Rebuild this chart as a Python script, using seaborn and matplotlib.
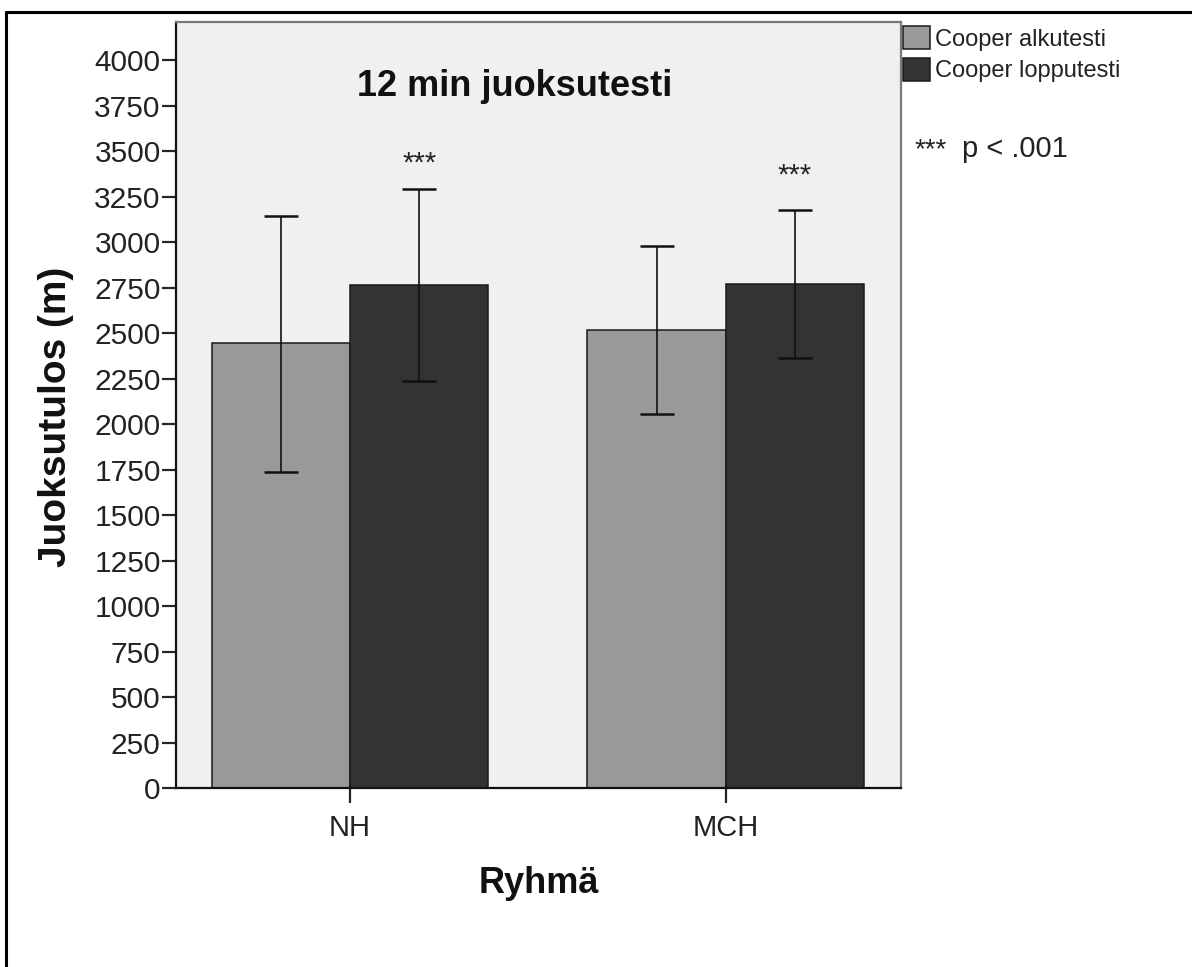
import numpy as np
import pandas as pd
import matplotlib
matplotlib.use('Agg')
import matplotlib.pyplot as plt
import seaborn as sns
from matplotlib.lines import Line2D

# data
groups = ['NH', 'MCH']
tests = ['Cooper alkutesti', 'Cooper lopputesti']
mean_alku = [2443, 2516]
mean_loppu = [2764, 2767]
err_low_alku = [1736, 2053]
err_high_alku = [3144, 2978]
err_low_loppu = [2236, 2361]
err_high_loppu = [3291, 3174]
sig_labels = ['***', '***']
sig_y = [3385, 3320]
y_ticks = np.arange(0, 4001, 250)

df = pd.DataFrame({
    'Ryhmä': groups * 2,
    'Testi': [tests[0]] * 2 + [tests[1]] * 2,
    'Juoksutulos': mean_alku + mean_loppu,
    'low': err_low_alku + err_low_loppu,
    'high': err_high_alku + err_high_loppu,
})

sns.set_style('ticks')
plt.rcParams['font.family'] = ['Liberation Sans', 'DejaVu Sans']

fig = plt.figure(figsize=(11.92, 9.67), dpi=100)
ax = fig.add_axes([176 / 1192, 1 - 788 / 967, 725 / 1192, 766 / 967])
ax.set_facecolor('#f0f0f0')

sns.barplot(data=df, x='Ryhmä', y='Juoksutulos', hue='Testi', order=groups,
            hue_order=tests, palette=['#999999', '#333333'], width=0.736,
            errorbar=None, edgecolor='#1a1a1a', linewidth=1.1, ax=ax)

# error bars on the bar centres
for cont, lo, hi in zip(ax.containers, [err_low_alku, err_low_loppu], [err_high_alku, err_high_loppu]):
    for bar, l, h in zip(cont.patches, lo, hi):
        xc = bar.get_x() + bar.get_width() / 2
        m = bar.get_height()
        ax.errorbar(xc, m, yerr=[[m - l], [h - m]], fmt='none', ecolor='#111111',
                    elinewidth=1.2, capsize=12.5, capthick=1.8)

# significance stars over the second series
for bar, lab, yy in zip(ax.containers[1].patches, sig_labels, sig_y):
    ax.text(bar.get_x() + bar.get_width() / 2, yy, lab, ha='center', va='baseline',
            fontsize=21, color='#222222')

ax.set_xlim(-0.463, 1.4666)
ax.set_ylim(0, 4209)
ax.set_yticks(y_ticks)
ax.tick_params(axis='y', length=10, width=1.6, labelsize=21.5, labelcolor='#222222', pad=1)
ax.tick_params(axis='x', length=11, width=1.6, labelsize=21, labelcolor='#222222', pad=8)

for s in ['left', 'bottom']:
    ax.spines[s].set_color('#111111')
    ax.spines[s].set_linewidth(1.6)
for s in ['top', 'right']:
    ax.spines[s].set_color('#7a7a7a')
    ax.spines[s].set_linewidth(1.6)

ax.set_ylabel('Juoksutulos (m)', fontsize=28, fontweight='bold', color='#111111')
ax.set_xlabel('Ryhmä', fontsize=26, fontweight='bold', color='#111111')
ax.yaxis.set_label_coords(-0.14, 0.485)
ax.xaxis.set_label_coords(0.5, -0.102)
ax.xaxis.label.set_va('top')

ax.text(0.4676, 0.9034, '12 min juoksutesti', transform=ax.transAxes, ha='center',
        va='baseline', fontsize=26, fontweight='bold', color='#111111')

leg = ax.legend(loc='upper left', bbox_to_anchor=(1.003, 0.995), frameon=False,
                borderaxespad=0, borderpad=0, fontsize=17, handlelength=1.15,
                handleheight=1.15, handletextpad=0.2, labelspacing=0.3)
for t in leg.get_texts():
    t.set_color('#222222')

fig.text(915 / 1192, 1 - 157 / 967, '***', fontsize=20, color='#222222', va='baseline')
fig.text(962 / 1192, 1 - 157 / 967, 'p < .001', fontsize=21, color='#222222', va='baseline')

# frame lines around the picture (top and left only)
fig.add_artist(Line2D([6 / 1192, 1], [1 - 12 / 967, 1 - 12 / 967], transform=fig.transFigure,
                      color='black', linewidth=2.2))
fig.add_artist(Line2D([6 / 1192, 6 / 1192], [0, 1 - 12 / 967], transform=fig.transFigure,
                      color='black', linewidth=2.2))

fig.savefig('out.png', dpi=100)
